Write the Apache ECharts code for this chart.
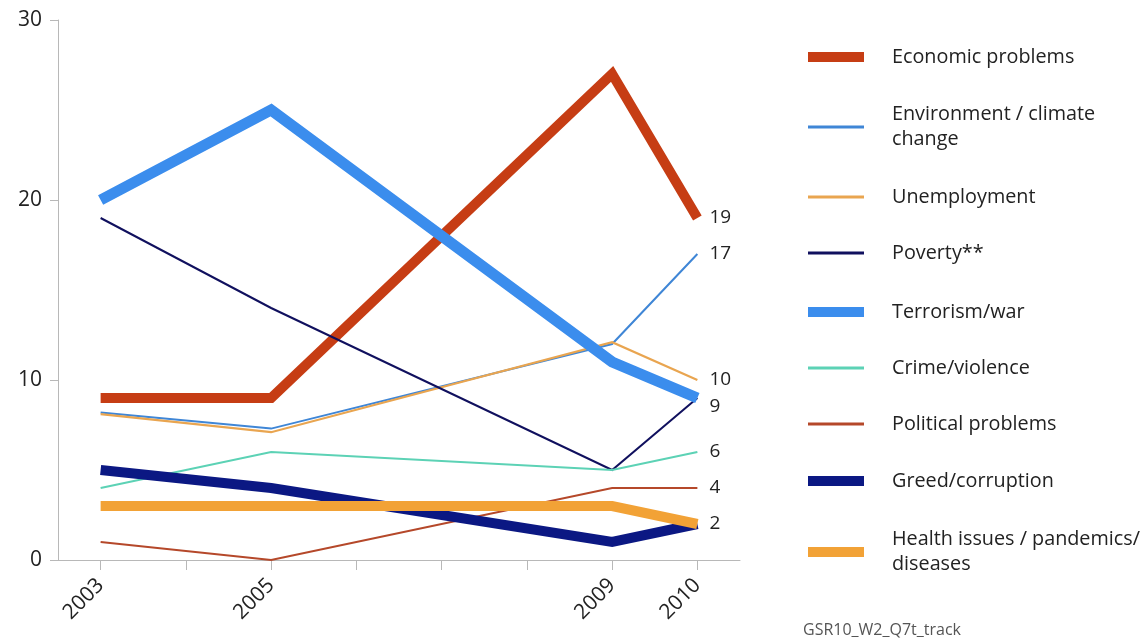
<!DOCTYPE html>
<html>
<head>
<meta charset="utf-8">
<script src="https://cdn.jsdelivr.net/npm/echarts@6/dist/echarts.min.js"></script>
<style>html,body{margin:0;padding:0;background:#fff;}#c{width:1148px;height:644px;}</style>
</head>
<body>
<div id="c"></div>
<script>
var years = ['2003','2004','2005','2006','2007','2008','2009','2010'];
var shownYears = ['2003','2005','2009','2010'];
var yTicks = [0, 10, 20, 30];
var economic     = [9, null, 9, null, null, null, 27, 19];
var environment  = [8.2, null, 7.3, null, null, null, 12, 17];
var unemployment = [8.1, null, 7.1, null, null, null, 12.1, 10];
var poverty      = [19, null, 14, null, null, null, 5, 9];
var terrorism    = [20, null, 25, null, null, null, 11, 9];
var crime        = [4, null, 6, null, null, null, 5, 6];
var political    = [1, null, 0, null, null, null, 4, 4];
var greed        = [5, null, 4, null, null, null, 1, 2];
var health       = [3, null, 3, null, null, null, 3, 2];
var names = ['Economic problems','Environment / climate change','Unemployment','Poverty**','Terrorism/war','Crime/violence','Political problems','Greed/corruption','Health issues / pandemics/ diseases'];
var legendText = {
  'Environment / climate change': 'Environment / climate\nchange',
  'Health issues / pandemics/ diseases': 'Health issues / pandemics/\ndiseases'
};

var FONT = '"Open Sans", "Noto Sans", sans-serif';
var colors = ['#c63d14','#3f86d6','#e9a550','#10105e','#3b8ded','#5cd2b5','#b5482a','#0b1883','#f2a236'];
var widths = [10, 2, 2.2, 2, 11, 2.2, 2, 10, 10];
var datas = [economic, environment, unemployment, poverty, terrorism, crime, political, greed, health];
var endLbl = [true, true, true, false, true, true, true, false, true];
var endOffset = {4: [0, 9]};
var legendCY = [57, 127, 197, 253, 312, 368, 424, 481, 552];
var twoLine = [false, true, false, false, false, false, false, false, true];

var series = names.map(function (n, i) {
  return {
    name: n, type: 'line', data: datas[i], connectNulls: true,
    symbol: 'none', color: colors[i],
    lineStyle: {width: widths[i], color: colors[i], cap: 'butt', join: 'miter'},
    endLabel: {
      show: endLbl[i], distance: 12, offset: endOffset[i] || [0, 0],
      color: '#222', fontSize: 19, fontFamily: FONT,
      formatter: function (p) { return String(p.value); }
    },
    emphasis: {disabled: true},
    z: 2 + i
  };
});

var legends = names.map(function (n, i) {
  var h = widths[i] >= 9 ? 10 : 3;
  return {
    data: [{name: n, icon: 'rect'}],
    left: 808,
    top: legendCY[i] - (twoLine[i] ? 25 : 12.5),
    itemWidth: 56, itemHeight: h,
    padding: 0,
    formatter: function (name) { return legendText[name] || name; },
    textStyle: {fontSize: 19.8, fontFamily: FONT, color: '#222', lineHeight: 25, padding: [0, 0, 0, 23]}
  };
});

var chart = echarts.init(document.getElementById('c'));
chart.setOption({
  animation: false,
  backgroundColor: '#fff',
  title: {text: 'GSR10_W2_Q7t_track', left: 803, top: 622, padding: 0,
    textStyle: {fontSize: 16, fontWeight: 'normal', color: '#555', fontFamily: FONT}},
  legend: legends,
  grid: {left: 58, right: 408, top: 20, bottom: 84, containLabel: false},
  xAxis: {
    type: 'category', data: years, boundaryGap: true,
    axisLine: {show: true, lineStyle: {color: '#b8b8b8', width: 1}},
    axisTick: {show: true, alignWithLabel: true, interval: 0, length: 10, lineStyle: {color: '#b8b8b8'}},
    axisLabel: {
      interval: function (idx, val) { return shownYears.indexOf(val) >= 0; },
      rotate: 45, fontSize: 21, color: '#222', fontFamily: FONT, margin: 22
    },
    splitLine: {show: false}
  },
  yAxis: {
    type: 'value', min: yTicks[0], max: yTicks[yTicks.length - 1], interval: 10,
    axisLine: {show: true, lineStyle: {color: '#b8b8b8', width: 1}},
    axisTick: {show: true, length: 8, lineStyle: {color: '#b8b8b8'}},
    axisLabel: {fontSize: 21, color: '#222', fontFamily: FONT, margin: 16},
    splitLine: {show: false}
  },
  series: series
});
</script>
</body>
</html>
